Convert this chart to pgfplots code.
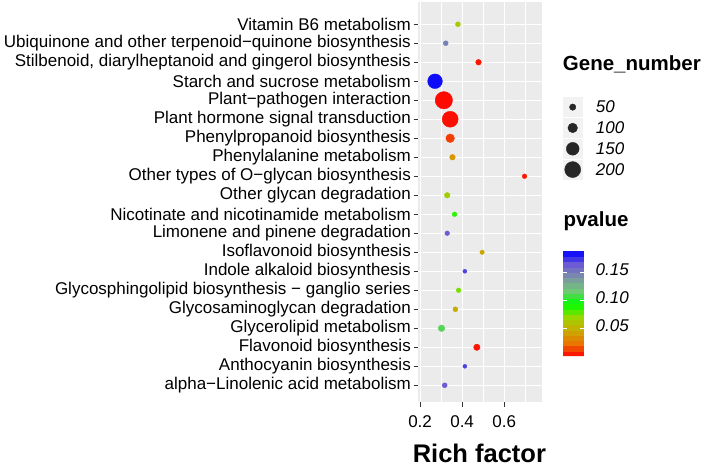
\documentclass[border=0pt]{standalone}
\usepackage{fontspec}
\setmainfont{Liberation Sans}
\usepackage{pgfplots}
\usepackage{pgfplotstable}
\pgfplotsset{compat=1.18}
\definecolor{panelgray}{RGB}{235,235,235}
\definecolor{keygray}{RGB}{242,242,242}
\definecolor{tickgray}{RGB}{51,51,51}
\pgfplotsset{colormap={pv}{rgb255=(255,0,0) rgb255=(232,118,0) rgb255=(201,171,0) rgb255=(152,215,0) rgb255=(0,255,0) rgb255=(111,201,114) rgb255=(125,147,166) rgb255=(108,91,211) rgb255=(0,0,255)}}
\pgfplotstableread{
y  x      n    p
20 0.380  28   0.065
19 0.322  28   0.150
18 0.478  38   0.004
17 0.271  179  0.186
16 0.313  221  0.002
15 0.343  200  0.003
14 0.343  85   0.012
13 0.354  38   0.038
12 0.697  23   0.005
11 0.329  38   0.066
10 0.364  23   0.088
9  0.329  23   0.165
8  0.495  19   0.045
7  0.413  13   0.172
6  0.383  23   0.076
5  0.368  28   0.048
4  0.302  53   0.113
3  0.470  50   0.004
2  0.413  13   0.172
1  0.317  28   0.165
}\datatable
\pgfplotstableread{
x   y  n
0.5 4  50
0.5 3  100
0.5 2  150
0.5 1  200
}\sizelegend
\newcommand{\tf}{\fontsize{17}{17}\selectfont}
\begin{document}
\begin{tikzpicture}
\path[use as bounding box] (0,0) rectangle (712pt,467pt);
\begin{axis}[
  at={(418pt,65pt)}, anchor=south west,
  scale only axis, width=124pt, height=400pt,
  xmin=0.19, xmax=0.78, ymin=0.12, ymax=21.17,
  axis background/.style={fill=panelgray},
  axis line style={draw=none},
  grid=both,
  major grid style={white, line width=1.1pt},
  minor grid style={white, line width=0.55pt},
  xtick={0.2,0.4,0.6}, minor xtick={0.3,0.5,0.7},
  xticklabels={0.2,0.4,0.6},
  ytick={1,...,20},
  yticklabels={
    alpha−Linolenic acid metabolism,
    Anthocyanin biosynthesis,
    Flavonoid biosynthesis,
    Glycerolipid metabolism,
    Glycosaminoglycan degradation,
    Glycosphingolipid biosynthesis − ganglio series,
    Indole alkaloid biosynthesis,
    Isoflavonoid biosynthesis,
    Limonene and pinene degradation,
    Nicotinate and nicotinamide metabolism,
    Other glycan degradation,
    Other types of O−glycan biosynthesis,
    Phenylalanine metabolism,
    Phenylpropanoid biosynthesis,
    Plant hormone signal transduction,
    Plant−pathogen interaction,
    Starch and sucrose metabolism,
    {Stilbenoid, diarylheptanoid and gingerol biosynthesis},
    Ubiquinone and other terpenoid−quinone biosynthesis,
    Vitamin B6 metabolism},
  tick align=outside, tick pos=left,
  major tick length=4.5pt, minor tick length=0pt,
  major tick style={color=tickgray, line width=1pt},
  yticklabel style={font=\tf, anchor=east, inner sep=0pt, xshift=-2.5pt},
  xticklabel style={font=\tf, anchor=north, inner sep=0pt, yshift=-8.5pt},
  colormap name=pv,
  point meta min=0, point meta max=0.189,
  colorbar sampled,
  colorbar style={
    at={(parent axis.south east)}, anchor=south west,
    xshift=12.3pt, yshift=46pt,
    scale only axis, width=21.7pt, height=105pt,
    samples=21,
    ytick={0.05,0.1,0.15},
    yticklabels={0.05,0.10,0.15},
    axis line style={draw=none},
    tick align=inside, tick pos=both, yticklabel pos=right,
    major tick length=4.3pt,
    major tick style={color=white, line width=0.6pt},
    axis on top,
    yticklabel style={font=\tf\itshape, anchor=west, inner sep=0pt, xshift=11pt, yshift=3pt},
  },
  clip=false,
]
\addplot[scatter, only marks, mark=*, point meta=explicit,
  visualization depends on={\thisrow{n} \as \gn},
  scatter/use mapped color={draw=mapped color, fill=mapped color},
  scatter/@pre marker code/.append style={/tikz/mark size={1.6+0.032*\gn}}]
  table[x=x, y=y, meta=p] {\datatable};
\end{axis}
\begin{axis}[
  at={(562.7pt,287pt)}, anchor=south west,
  scale only axis, width=20pt, height=83.3pt,
  xmin=0, xmax=1, ymin=0.5, ymax=4.5, hide axis, clip=false]
\fill[keygray] (axis cs:0,0.52) rectangle (axis cs:1,1.48);
\fill[keygray] (axis cs:0,1.52) rectangle (axis cs:1,2.48);
\fill[keygray] (axis cs:0,2.52) rectangle (axis cs:1,3.48);
\fill[keygray] (axis cs:0,3.52) rectangle (axis cs:1,4.48);
\addplot[scatter, only marks, mark=*, point meta=\thisrow{n},
  visualization depends on={\thisrow{n} \as \gn},
  scatter/use mapped color={draw=black!85, fill=black!85},
  scatter/@pre marker code/.append style={/tikz/mark size={1.6+0.032*\gn}}]
  table[x=x, y=y] {\sizelegend};
\node[anchor=west, inner sep=0pt, font=\tf\itshape, xshift=13pt] at (axis cs:1,4) {50};
\node[anchor=west, inner sep=0pt, font=\tf\itshape, xshift=13pt] at (axis cs:1,3) {100};
\node[anchor=west, inner sep=0pt, font=\tf\itshape, xshift=13pt] at (axis cs:1,2) {150};
\node[anchor=west, inner sep=0pt, font=\tf\itshape, xshift=13pt] at (axis cs:1,1) {200};
\end{axis}
\node[anchor=base, font=\fontsize{25.5}{25.5}\selectfont\bfseries, inner sep=0pt] at (479.4pt,4.5pt) {Rich factor};
\node[anchor=base west, font=\fontsize{20.5}{20.5}\selectfont\bfseries, inner sep=0pt] at (562.7pt,396pt) {Gene\_number};
\node[anchor=base west, font=\fontsize{20.5}{20.5}\selectfont\bfseries, inner sep=0pt] at (563.3pt,241pt) {pvalue};
\end{tikzpicture}
\end{document}
